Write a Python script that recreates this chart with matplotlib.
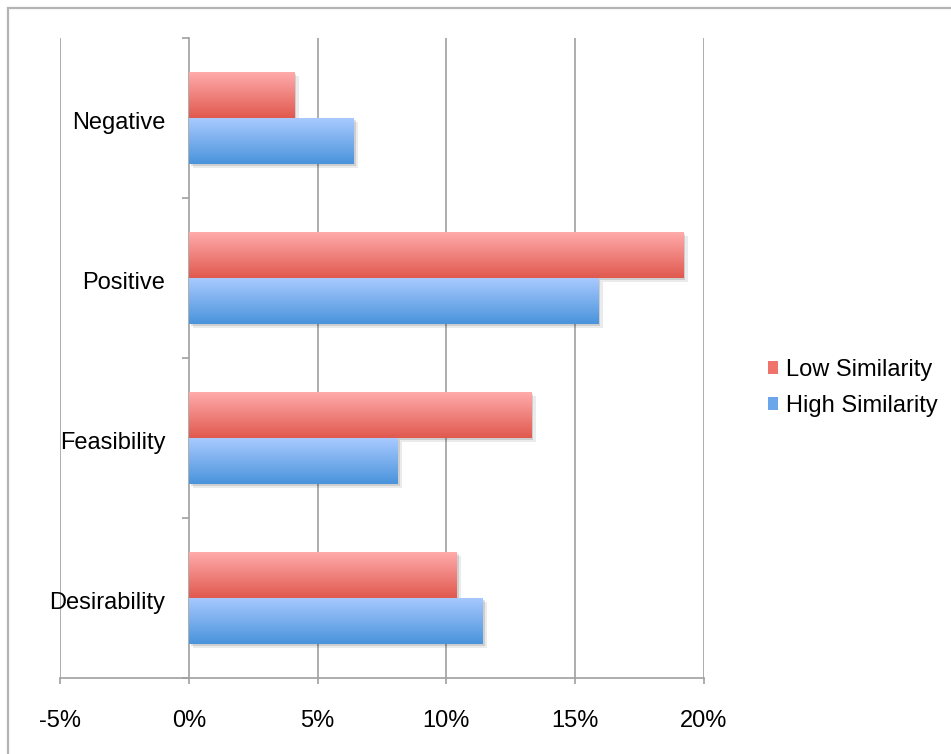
import numpy as np
import matplotlib
matplotlib.use("Agg")
import matplotlib.pyplot as plt
import matplotlib.patheffects as pe
from matplotlib.patches import Patch, Rectangle
from matplotlib.ticker import FuncFormatter

categories = ["Negative", "Positive", "Feasibility", "Desirability"]
low_similarity = [4.1, 19.2, 13.3, 10.4]
high_similarity = [6.4, 15.9, 8.1, 11.4]
series_names = ["Low Similarity", "High Similarity"]

red_top, red_bottom = (1.0, 0.67, 0.67), (0.88, 0.35, 0.31)
blue_top, blue_bottom = (0.66, 0.79, 1.0), (0.29, 0.58, 0.86)
grid_col = "#a0a0a0"

plt.rcParams["font.family"] = ["Liberation Sans", "DejaVu Sans"]
plt.rcParams["font.size"] = 17

fig = plt.figure(figsize=(9.51, 7.54), dpi=100)
ax = fig.add_axes([60 / 951, 1 - 678 / 754, 644 / 951, 640 / 754])

# outer frame around the chart area
fig.patches.append(Rectangle((8 / 951, -0.05), 1.1, 1 - 8 / 754 + 0.05,
                             transform=fig.transFigure, fill=False,
                             edgecolor="#b4b4b4", linewidth=1.6))

n = len(categories)
ypos = np.arange(n)[::-1].astype(float)
h = 0.2875


def gradient_bars(y, vals, top, bottom, z):
    bars = ax.barh(y, vals, height=h, color="none", zorder=z)
    grad = np.linspace(0, 1, 64)[:, None, None]
    img = (1 - grad) * np.array(top) + grad * np.array(bottom)
    for b in bars:
        b.set_path_effects([
            pe.SimplePatchShadow(offset=(1.5, -1.5), shadow_rgbFace="k", alpha=0.12),
            pe.SimplePatchShadow(offset=(3.0, -3.0), shadow_rgbFace="k", alpha=0.08),
            pe.Normal(),
        ])
        x0, y0, w, hh = b.get_x(), b.get_y(), b.get_width(), b.get_height()
        im = ax.imshow(img, extent=[x0, x0 + w, y0, y0 + hh], aspect="auto",
                       origin="upper", zorder=z + 0.5, interpolation="bilinear")
        im.set_clip_path(b)


gradient_bars(ypos + h / 2, low_similarity, red_top, red_bottom, 3)
gradient_bars(ypos - h / 2, high_similarity, blue_top, blue_bottom, 4)

ax.set_xlim(-5, 20)
ax.set_ylim(-0.5, n - 0.5)

# vertical gridlines
for xv in [-5, 5, 10, 15, 20]:
    ax.axvline(xv, color=grid_col, linewidth=1.2, zorder=1)

for s in ["top", "right"]:
    ax.spines[s].set_visible(False)
ax.spines["left"].set_position(("data", 0))
ax.spines["left"].set_color(grid_col)
ax.spines["left"].set_linewidth(1.2)
ax.spines["left"].set_zorder(1)
ax.spines["bottom"].set_color(grid_col)
ax.spines["bottom"].set_linewidth(1.2)

ax.set_xticks([-5, 0, 5, 10, 15, 20])
ax.xaxis.set_major_formatter(FuncFormatter(lambda v, p: f"{v:.0f}%"))
ax.tick_params(axis="x", length=4, width=1.2, color=grid_col, pad=19)

ax.set_yticks(np.arange(n + 1) - 0.5)
ax.set_yticklabels([])
ax.set_yticks(ypos - 0.015, minor=True)
ax.set_yticklabels(categories, minor=True)
ax.tick_params(axis="y", which="major", length=5, width=1.2, color=grid_col)
ax.tick_params(axis="y", which="minor", length=0, pad=17)

handles = [Patch(facecolor=(0.94, 0.45, 0.42), edgecolor="none"),
           Patch(facecolor=(0.42, 0.65, 0.92), edgecolor="none")]
fig.legend(handles, series_names, loc="center left",
           bbox_to_anchor=(756 / 951, 1 - 388 / 754), frameon=False,
           handlelength=0.45, handleheight=0.45, handletextpad=0.3,
           labelspacing=0.6, borderpad=0)

fig.savefig("out.png", dpi=100)
